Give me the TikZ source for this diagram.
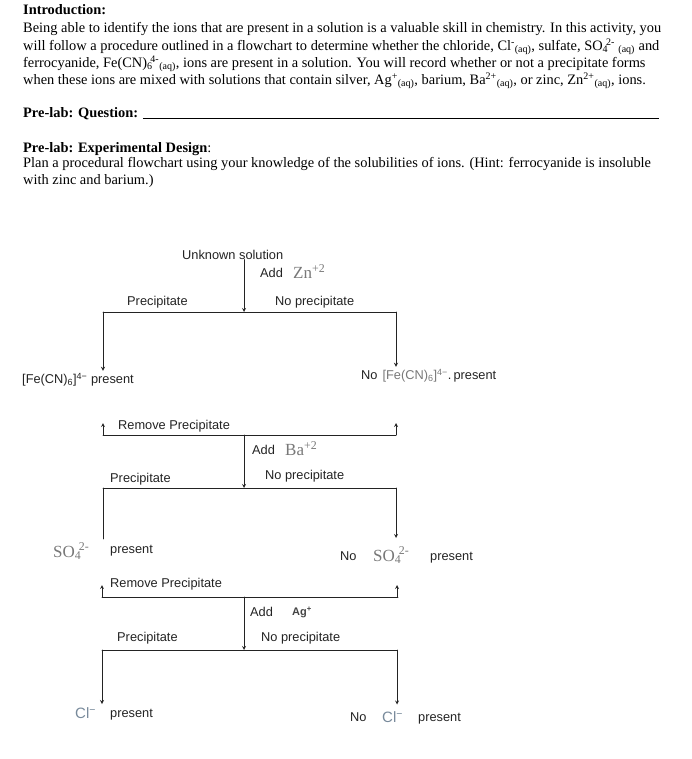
\documentclass[tikz,border=0pt]{standalone}
\usepackage{fontspec}
\setmainfont{Liberation Serif}
\setsansfont{Liberation Sans}
\definecolor{inkgray}{RGB}{35,35,35}
\definecolor{iongray}{RGB}{120,120,120}
\definecolor{clgray}{RGB}{120,138,155}
\newcommand{\aq}{\textsubscript{(aq)}}
\newcommand{\subsup}[2]{\textsubscript{#1}\kern-0.15em\textsuperscript{#2}}
\begin{document}
\begin{tikzpicture}[x=1pt, y=-1pt, line join=round, line cap=round, >=stealth,
	body/.style={anchor=base west, inner sep=0pt, font=\fontsize{14.4}{17}\selectfont},
	lbl/.style={anchor=base west, inner sep=0pt, text=inkgray, font=\sffamily\fontsize{12.8}{14}\selectfont},
	ionser/.style={anchor=base west, inner sep=0pt, text=iongray, font=\fontsize{17}{18}\selectfont},
	link/.style={draw=inkgray, line width=0.8pt}]
	\useasboundingbox (0,0) rectangle (691,759);
	\def\xl{103}\def\xm{244}\def\xr{396}
	% introduction text
	\node[body] (intro) at (23,14.5) {\textbf{Introduction:}};
	\node[body] (lineA) at (23,32.5) {Being able to identify the ions that are present in a solution is a valuable skill in chemistry. In this activity, you};
	\node[body] (lineB) at (23,50.5) {will follow a procedure outlined in a flowchart to determine whether the chloride, Cl\textsuperscript{-}\aq, sulfate, SO\subsup{4}{2-}\ \aq\ and};
	\node[body] (lineC) at (23,67.5) {ferrocyanide, Fe(CN)\subsup{6}{4-}\aq, ions are present in a solution. You will record whether or not a precipitate forms};
	\node[body] (lineD) at (23,84.5) {when these ions are mixed with solutions that contain silver, Ag\textsuperscript{+}\aq, barium, Ba\textsuperscript{2+}\aq, or zinc, Zn\textsuperscript{2+}\aq, ions.};
	\node[body] (quest) at (23,117.5) {\textbf{Pre-lab: Question:} \rule[-1.5pt]{516pt}{1.2pt}};
	\node[body] (design) at (23,152.5) {\textbf{Pre-lab: Experimental Design}:};
	\node[body] (planA) at (23,167.5) {Plan a procedural flowchart using your knowledge of the solubilities of ions. (Hint: ferrocyanide is insoluble};
	\node[body] (planB) at (23,184.5) {with zinc and barium.)};
	% zinc step
	\node[lbl] (unk) at (182,259.5) {Unknown solution};
	\node[lbl] (addZn) at (260,277.5) {Add};
	\node[ionser] (zn) at (293,278.5) {Zn\textsuperscript{+2}};
	\node[lbl] (precA) at (127,305.5) {Precipitate};
	\node[lbl] (noprecA) at (275,305.5) {No precipitate};
	\node[lbl] (fe) at (22,383.5) {[Fe(CN)\textsubscript{6}]\textsuperscript{4−} present};
	\node[lbl] (nofe) at (361,379.5) {No\hspace{5pt}{\color{iongray}[Fe(CN)\textsubscript{6}]\textsuperscript{4−}}.\,present};
	\coordinate (jA) at (\xm,312); \coordinate (lA) at (\xl,312); \coordinate (rA) at (\xr,312);
	\draw[link,->] (unk.base -| jA) -- (jA);
	\draw[link] (lA) -- (rA);
	\draw[link,->] (lA) -- ([yshift=2pt]lA |- fe.north);
	\draw[link,->] (rA) -- ([yshift=2pt]rA |- nofe.north);
	% barium step
	\node[lbl] (remA) at (118,429.5) {Remove Precipitate};
	\coordinate (lB) at (\xl,435); \coordinate (mB) at (\xm,435); \coordinate (rB) at (\xr,435);
	\draw[link] (lB) -- (rB);
	\draw[link,->] (lB) -- ++(0,-12);
	\draw[link,->] (rB) -- ++(0,-12);
	\node[lbl] (addBa) at (252,454.5) {Add};
	\node[ionser] (ba) at (285,455.5) {Ba\textsuperscript{+2}};
	\node[lbl] (precB) at (110,482.5) {Precipitate};
	\node[lbl] (noprecB) at (265,479.5) {No precipitate};
	\coordinate (lC) at (\xl,488); \coordinate (mC) at (\xm,488); \coordinate (rC) at (\xr,488);
	\draw[link,->] (mB) -- (mC);
	\draw[link] (lC) -- (rC);
	\node[ionser] (so) at (53,557) {SO\subsup{4}{2-}};
	\node[lbl] (soP) at (110,553.5) {present};
	\node[lbl] (noso) at (340,560.5) {No};
	\node[ionser] (soB) at (373,561) {SO\subsup{4}{2-}};
	\node[lbl] (nosoP) at (430,560.5) {present};
	\draw[link] (lC) -- ++(0,51);
	\draw[link,->] (rC) -- ++(0,50);
	% silver step
	\node[lbl] (remB) at (110,587.5) {Remove Precipitate};
	\coordinate (lD) at (102,597); \coordinate (mD) at (\xm,597); \coordinate (rD) at (398,597);
	\draw[link] (lD) -- (rD);
	\draw[link,->] (lD) -- ++(0,-12);
	\draw[link,->] ([xshift=-1pt]rD) -- ++(0,-12);
	\node[lbl] (addAg) at (250,616.5) {Add};
	\node[anchor=base west, inner sep=0pt, text=inkgray!85, font=\sffamily\bfseries\fontsize{11}{12}\selectfont] (ag) at (292,615) {Ag\textsuperscript{+}};
	\node[lbl] (precC) at (117,641.5) {Precipitate};
	\node[lbl] (noprecC) at (261,641.5) {No precipitate};
	\coordinate (lE) at (102,650); \coordinate (mE) at (\xm,650); \coordinate (rE) at (397,650);
	\draw[link,->] (mD) -- (mE);
	\draw[link] (lE) -- (rE);
	\node[lbl, text=clgray, font=\sffamily\fontsize{15}{16}\selectfont] (cl) at (75,718.5) {Cl\textsuperscript{−}};
	\node[lbl] (clP) at (110,717.5) {present};
	\node[lbl] (nocl) at (350,721.5) {No};
	\node[lbl, text=clgray, font=\sffamily\fontsize{15}{16}\selectfont] (clB) at (382,722.5) {Cl\textsuperscript{−}};
	\node[lbl] (noclP) at (418,721.5) {present};
	\draw[link,->] (lE) -- ([yshift=5pt]lE |- clP.north);
	\draw[link,->] (rE) -- ([yshift=8pt]rE |- nocl.north);
\end{tikzpicture}
\end{document}
